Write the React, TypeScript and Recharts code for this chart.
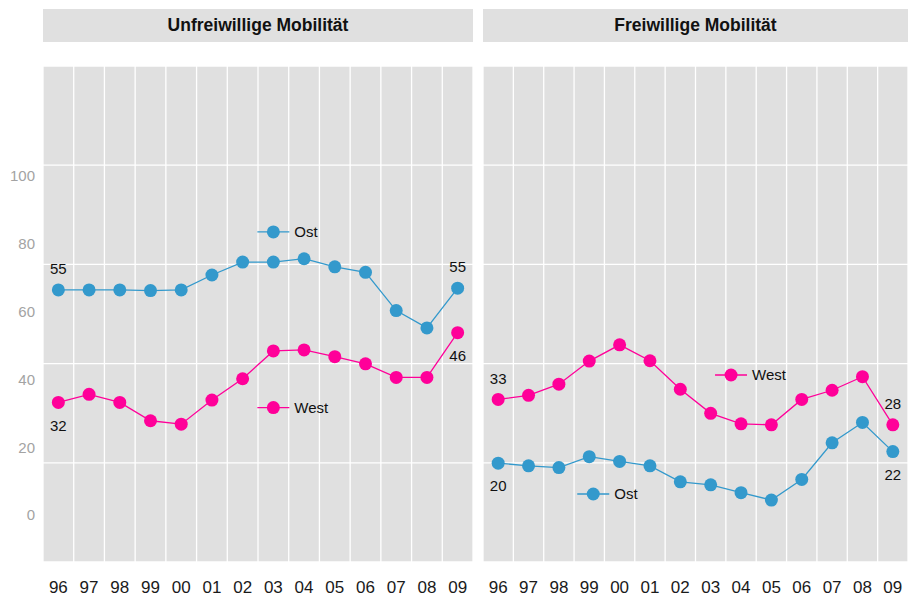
import React from 'react';
import { ComposedChart, CartesianGrid, XAxis, YAxis, Line, LabelList, ReferenceDot } from 'recharts';

const years = ['96', '97', '98', '99', '00', '01', '02', '03', '04', '05', '06', '07', '08', '09'];

// values (label axis scale)
const unfreiOst = [66.4, 66.4, 66.4, 66.2, 66.4, 70.8, 74.6, 74.6, 75.6, 73.2, 71.6, 60.3, 55.2, 66.9];
const unfreiWest = [33.2, 35.6, 33.2, 27.8, 26.8, 33.9, 40.2, 48.4, 48.7, 46.7, 44.6, 40.6, 40.6, 53.8];
const freiOst = [15.3, 14.5, 14.0, 17.2, 15.8, 14.5, 9.8, 8.9, 6.6, 4.4, 10.5, 21.3, 27.3, 18.7];
const freiWest = [34.1, 35.3, 38.6, 45.4, 50.2, 45.5, 37.1, 30.0, 26.9, 26.6, 34.1, 36.8, 40.8, 26.6];

// printed end labels [first year, last year]
const unfreiOstEnds = [55, 55];
const unfreiWestEnds = [32, 46];
const freiOstEnds = [20, 22];
const freiWestEnds = [33, 28];

const yTicks = [0, 20, 40, 60, 80, 100];
const yDomain: [number, number] = [-13.86, 132.45];
const hBands = 5; // horizontal grid bands in each panel

const OST = '#3399CC';
const WEST = '#FF0099';
const FONT = '"Liberation Sans", Arial, sans-serif';

type Side = 'top' | 'bottom';
type KeySpot = { year: string; value: number; dx: number };

// grid lines sit on the band edges, not on the tick centres
const verticalEdges = ({ offset, width }: any) => {
  const w = offset.width ?? width - offset.left - offset.right;
  return Array.from({ length: years.length + 1 }, (_, k) => offset.left + (k * w) / years.length);
};
const horizontalEdges = ({ offset, height }: any) => {
  const h = offset.height ?? height - offset.top - offset.bottom;
  return Array.from({ length: hBands + 1 }, (_, k) => offset.top + (k * h) / hBands);
};

const endLabel = (side: Side) => (props: any) => {
  const { value } = props;
  if (value === null || value === undefined) return null;
  const vb = props.viewBox || {};
  const x = props.x ?? vb.x;
  const y = props.y ?? vb.y;
  return (
    <text x={x} y={side === 'top' ? y - 21 : y + 23} dy="0.35em" textAnchor="middle" fontSize={15} fill="#111">
      {value}
    </text>
  );
};

const legendKey = (name: string, color: string, dx: number) => (props: any) => {
  const cx = props.cx + dx;
  const { cy } = props;
  return (
    <g>
      <line x1={cx - 16} x2={cx + 16} y1={cy} y2={cy} stroke={color} strokeWidth={1.3} />
      <circle cx={cx} cy={cy} r={6.5} fill={color} />
      <text x={cx + 21} y={cy} dy="0.35em" fontSize={15} fill="#111">{name}</text>
    </g>
  );
};

interface PanelProps {
  title: string;
  left: number;
  width: number;
  yAxisWidth: number;
  showY: boolean;
  ost: number[];
  west: number[];
  ostEnds: number[];
  westEnds: number[];
  ostSide: Side;
  westSide: Side;
  ostKey: KeySpot;
  westKey: KeySpot;
}

const Panel: React.FC<PanelProps> = (p) => {
  const last = years.length - 1;
  const rows = years.map((year, i) => ({
    year,
    ost: p.ost[i],
    west: p.west[i],
    ostLabel: i === 0 ? p.ostEnds[0] : i === last ? p.ostEnds[1] : null,
    westLabel: i === 0 ? p.westEnds[0] : i === last ? p.westEnds[1] : null,
  }));

  return (
    <div style={{ position: 'absolute', left: p.left, top: 0, width: p.width, height: 596 }}>
      <div
        style={{
          position: 'absolute',
          left: p.yAxisWidth,
          top: 9,
          width: p.width - p.yAxisWidth,
          height: 33,
          background: '#E0E0E0',
          display: 'flex',
          alignItems: 'center',
          justifyContent: 'center',
          fontWeight: 'bold',
          fontSize: 17.5,
          color: '#111',
        }}
      >
        {p.title}
      </div>
      <ComposedChart width={p.width} height={596} data={rows} margin={{ top: 66, right: 0, bottom: 0, left: 0 }}>
        <CartesianGrid
          stroke="#FFFFFF"
          strokeWidth={1.3}
          fill="#E0E0E0"
          fillOpacity={1}
          verticalCoordinatesGenerator={verticalEdges}
          horizontalCoordinatesGenerator={horizontalEdges}
        />
        <XAxis
          dataKey="year"
          scale="band"
          height={34}
          axisLine={false}
          tickLine={false}
          tickSize={0}
          tickMargin={19}
          interval={0}
          tick={{ fontSize: 17, fill: '#1a1a1a' }}
        />
        <YAxis
          type="number"
          domain={yDomain}
          ticks={yTicks}
          allowDataOverflow
          hide={!p.showY}
          width={p.yAxisWidth}
          axisLine={false}
          tickLine={false}
          tickSize={0}
          tickMargin={8}
          tick={{ fontSize: 15, fill: '#A3A3A3' }}
        />
        <Line
          dataKey="ost"
          stroke={OST}
          strokeWidth={1.3}
          dot={{ r: 6.5, fill: OST, stroke: 'none' }}
          activeDot={false}
          isAnimationActive={false}
        >
          <LabelList dataKey="ostLabel" content={endLabel(p.ostSide)} />
        </Line>
        <Line
          dataKey="west"
          stroke={WEST}
          strokeWidth={1.3}
          dot={{ r: 6.5, fill: WEST, stroke: 'none' }}
          activeDot={false}
          isAnimationActive={false}
        >
          <LabelList dataKey="westLabel" content={endLabel(p.westSide)} />
        </Line>
        <ReferenceDot x={p.ostKey.year} y={p.ostKey.value} shape={legendKey('Ost', OST, p.ostKey.dx)} />
        <ReferenceDot x={p.westKey.year} y={p.westKey.value} shape={legendKey('West', WEST, p.westKey.dx)} />
      </ComposedChart>
    </div>
  );
};

export default function App() {
  return (
    <div
      style={{
        position: 'absolute',
        left: 0,
        top: 0,
        width: 908,
        height: 596,
        background: '#FFFFFF',
        fontFamily: FONT,
        overflow: 'hidden',
      }}
    >
      <Panel
        title="Unfreiwillige Mobilität"
        left={0}
        width={473}
        yAxisWidth={43}
        showY
        ost={unfreiOst}
        west={unfreiWest}
        ostEnds={unfreiOstEnds}
        westEnds={unfreiWestEnds}
        ostSide="top"
        westSide="bottom"
        ostKey={{ year: '03', value: 83.5, dx: 0 }}
        westKey={{ year: '03', value: 31.7, dx: 0 }}
      />
      <Panel
        title="Freiwillige Mobilität"
        left={483}
        width={425}
        yAxisWidth={0}
        showY={false}
        ost={freiOst}
        west={freiWest}
        ostEnds={freiOstEnds}
        westEnds={freiWestEnds}
        ostSide="bottom"
        westSide="top"
        ostKey={{ year: '99', value: 6.2, dx: 4 }}
        westKey={{ year: '04', value: 41.3, dx: -10 }}
      />
    </div>
  );
}
